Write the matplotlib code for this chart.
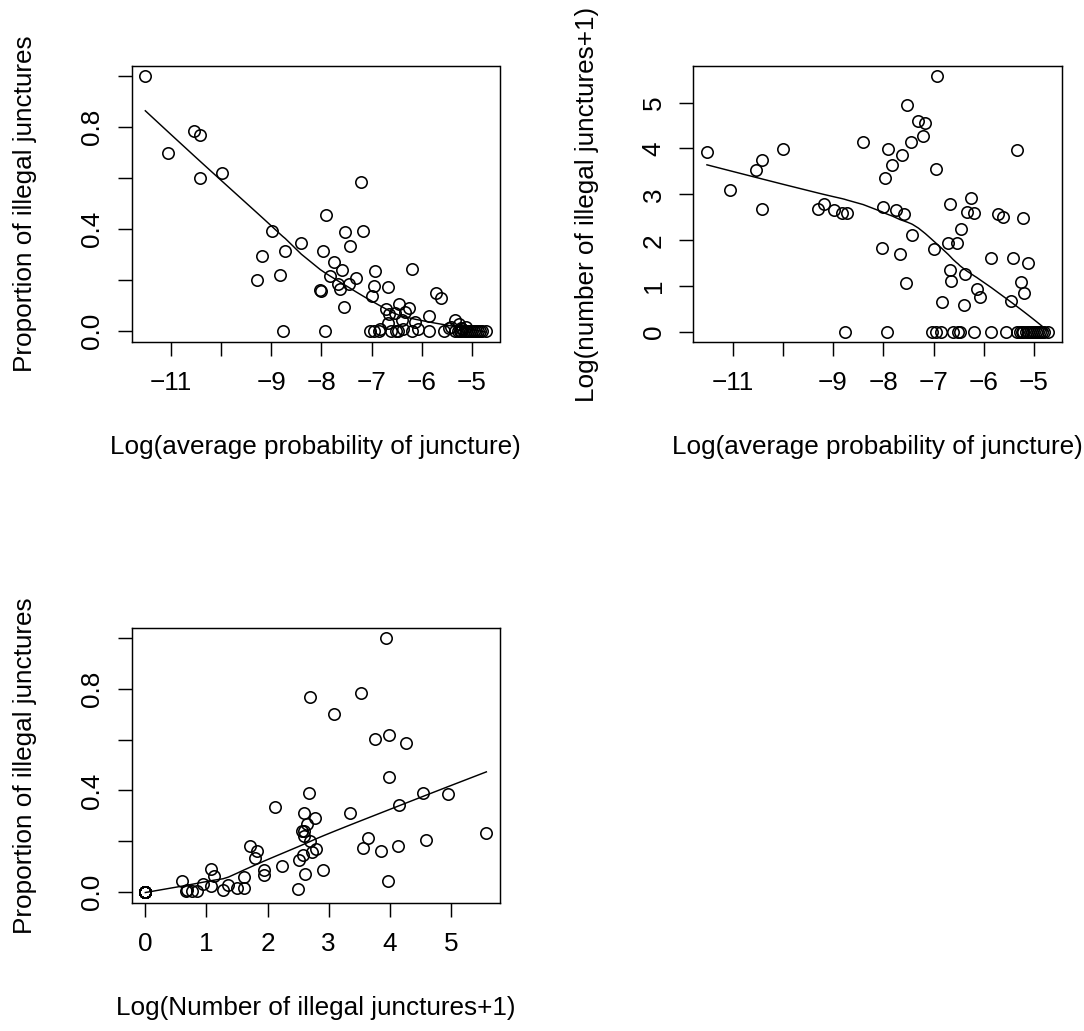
import numpy as np
import matplotlib
matplotlib.use("Agg")
import matplotlib.pyplot as plt

FS = 18.8
plt.rcParams['font.family'] = ['Liberation Sans', 'DejaVu Sans']
plt.rcParams['font.size'] = FS

# per-word juncture data: log avg probability, proportion illegal, log(count+1)
log_prob = [-11.51, -11.05, -10.54, -10.42, -10.41, -9.99, -9.29, -9.18, -8.98, -8.82,
            -8.72, -8.40, -8.02, -8.00, -7.97, -7.90, -7.82, -7.75, -7.67, -7.63,
            -7.59, -7.55, -7.52, -7.45, -7.42, -7.30, -7.21, -7.16, -6.99, -6.96,
            -6.94, -6.84, -6.71, -6.68, -6.67, -6.66, -6.54, -6.46, -6.39, -6.37,
            -6.33, -6.25, -6.20, -6.14, -6.07, -5.85, -5.71, -5.62, -5.46, -5.42,
            -5.33, -5.26, -5.21, -5.20, -5.11,
            -8.77, -7.93, -7.04, -6.95, -6.86, -6.62, -6.52, -6.47, -6.19, -5.85,
            -5.56, -5.34, -5.28, -5.24, -5.21, -5.16, -5.12, -5.08, -5.04, -5.00,
            -4.96, -4.92, -4.88, -4.84, -4.80, -4.72]
prop_illegal = [1.000, 0.699, 0.782, 0.601, 0.769, 0.618, 0.200, 0.291, 0.390, 0.220,
                0.313, 0.344, 0.160, 0.157, 0.313, 0.454, 0.214, 0.268, 0.181, 0.162,
                0.239, 0.092, 0.386, 0.181, 0.334, 0.205, 0.585, 0.390, 0.134, 0.173,
                0.233, 0.005, 0.086, 0.171, 0.030, 0.063, 0.067, 0.103, 0.043, 0.007,
                0.072, 0.089, 0.241, 0.034, 0.005, 0.059, 0.146, 0.128, 0.010, 0.015,
                0.043, 0.024, 0.011, 0.005, 0.015,
                0, 0, 0, 0, 0, 0, 0, 0, 0, 0,
                0, 0, 0, 0, 0, 0, 0, 0, 0, 0,
                0, 0, 0, 0, 0, 0]
log_num = [3.93, 3.09, 3.53, 3.75, 2.69, 3.98, 2.69, 2.78, 2.67, 2.60,
           2.59, 4.15, 1.83, 2.73, 3.35, 3.98, 3.64, 2.65, 1.71, 3.85,
           2.57, 1.07, 4.95, 4.13, 2.12, 4.60, 4.27, 4.55, 1.80, 3.56,
           5.58, 0.66, 1.94, 2.80, 1.36, 1.12, 1.94, 2.24, 0.60, 1.27,
           2.62, 2.91, 2.60, 0.94, 0.76, 1.62, 2.58, 2.51, 0.68, 1.62,
           3.97, 1.08, 2.49, 0.85, 1.50,
           0, 0, 0, 0, 0, 0, 0, 0, 0, 0,
           0, 0, 0, 0, 0, 0, 0, 0, 0, 0,
           0, 0, 0, 0, 0, 0]

xlab_prob = "Log(average probability of juncture)"
xlab_num = "Log(Number of illegal junctures+1)"
ylab_prop = "Proportion of illegal junctures"
ylab_num = "Log(number of illegal junctures+1)"


def lowess(x, y, f=2/3, iters=3):
    # same scheme as R's lowess(): tricube local lines + bisquare robustness
    order = np.argsort(x, kind="stable")
    x = np.asarray(x, float)[order]
    y = np.asarray(y, float)[order]
    n = len(x)
    ns = max(min(int(f * n + 1e-7), n), 2)
    rng = x[-1] - x[0]
    rw = np.ones(n)
    fit = np.zeros(n)
    for it in range(iters + 1):
        for i in range(n):
            d = np.abs(x - x[i])
            h = np.sort(d)[ns - 1]
            w = np.zeros(n)
            if h > 0:
                near = d <= 0.999 * h
                w[near] = (1 - (d[near] / h) ** 3) ** 3
                w[d <= 0.001 * h] = 1
            else:
                w[d == 0] = 1
            w = w * rw
            if w.sum() <= 0:
                fit[i] = y[i]
                continue
            w = w / w.sum()
            a = (w * x).sum()
            c = (w * (x - a) ** 2).sum()
            if np.sqrt(c) > 0.001 * rng:
                b = (x[i] - a) / c
                w = w * (b * (x - a) + 1)
            fit[i] = (w * y).sum()
        if it == iters:
            break
        res = y - fit
        cmad = 6 * np.median(np.abs(res))
        if cmad < 1e-7 * np.mean(np.abs(y)):
            break
        r = np.abs(res) / cmad
        rw = np.where(r < 0.999, (1 - r ** 2) ** 2, 0.0)
        rw[r <= 0.001] = 1
    return x, fit


W, H = 1084, 1031
fig = plt.figure(figsize=(W / 100, H / 100), dpi=100)


def panel(left, top, right, bottom):
    return fig.add_axes([left / W, 1 - bottom / H, (right - left) / W, (bottom - top) / H])


def draw(ax, x, y, xticks, xlabels, yticks, ylabels, xlab, ylab, xlab_y):
    ax.plot(x, y, 'o', mfc='none', mec='black', ms=8.2, mew=1.15)
    lx, ly = lowess(x, y)
    ax.plot(lx, ly, color='black', lw=1.05)
    ax.margins(0.04)
    ax.set_xticks(xticks)
    ax.set_xticklabels(xlabels)
    ax.set_yticks(yticks)
    ax.set_yticklabels(ylabels, rotation=90, va='center')
    ax.tick_params(direction='out', length=10, width=1.05, labelsize=FS)
    ax.tick_params(axis='x', pad=11)
    ax.tick_params(axis='y', pad=10)
    for s in ax.spines.values():
        s.set_linewidth(1.05)
    ax.set_xlabel(xlab, fontsize=FS, va='center')
    ax.xaxis.set_label_coords(0.5, xlab_y)
    ax.set_ylabel(ylab, fontsize=FS, va='center')


prob_ticks = [-11, -10, -9, -8, -7, -6, -5]
prob_labels = ['\u221211', '', '\u22129', '\u22128', '\u22127', '\u22126', '\u22125']
prop_ticks = [0, 0.2, 0.4, 0.6, 0.8, 1.0]
prop_labels = ['0.0', '', '0.4', '', '0.8', '']

ax1 = panel(131.7, 65.7, 499.5, 342.3)
draw(ax1, log_prob, prop_illegal, prob_ticks, prob_labels, prop_ticks, prop_labels,
     xlab_prob, ylab_prop, -0.3785)
ax1.yaxis.set_label_coords(-0.290, 0.5)

ax2 = panel(693.3, 65.7, 1061.7, 342.3)
draw(ax2, log_prob, log_num, prob_ticks, prob_labels, range(6), [str(i) for i in range(6)],
     xlab_prob, ylab_num, -0.3785)
ax2.yaxis.set_label_coords(-0.2885, 0.5)

ax3 = panel(131.7, 627.7, 500.0, 902.7)
draw(ax3, log_num, prop_illegal, range(6), [str(i) for i in range(6)], prop_ticks, prop_labels,
     xlab_num, ylab_prop, -0.383)
ax3.yaxis.set_label_coords(-0.290, 0.5)

fig.savefig("out.png", dpi=100, facecolor='white')
